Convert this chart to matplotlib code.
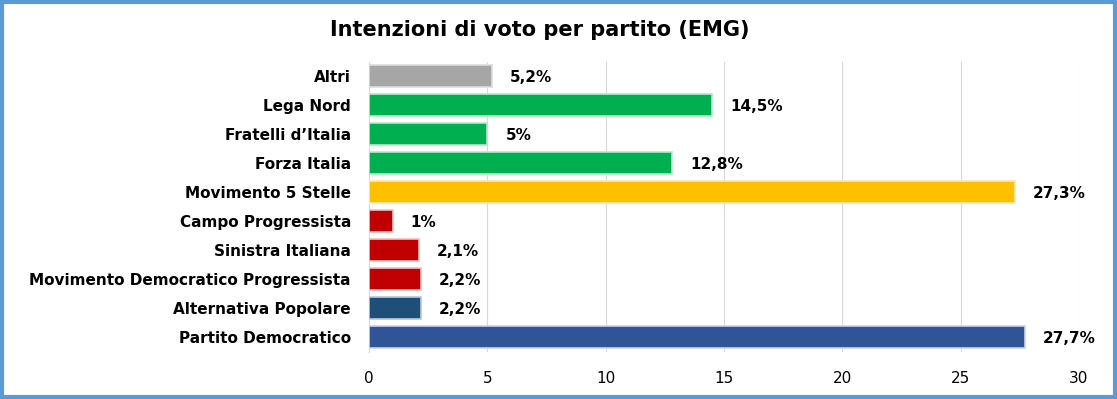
import matplotlib.pyplot as plt
from matplotlib.patches import Rectangle

# data, bottom to top
partiti = ['Partito Democratico', 'Alternativa Popolare',
           'Movimento Democratico Progressista', 'Sinistra Italiana',
           'Campo Progressista', 'Movimento 5 Stelle', 'Forza Italia',
           'Fratelli d\u2019Italia', 'Lega Nord', 'Altri']
voti = [27.7, 2.2, 2.2, 2.1, 1.0, 27.3, 12.8, 5.0, 14.5, 5.2]
etichette = ['27,7%', '2,2%', '2,2%', '2,1%', '1%', '27,3%', '12,8%',
             '5%', '14,5%', '5,2%']
colori = ['#2F5597', '#1F4E79', '#C00000', '#C00000', '#C00000',
          '#FFC000', '#00B050', '#00B050', '#00B050', '#A6A6A6']
bordi = ['#C9D3E8', '#B9C8D8', '#F0C0C0', '#F0C0C0', '#F0C0C0',
         '#FFE8A8', '#B8E8C8', '#B8E8C8', '#B8E8C8', '#DDDDDD']

plt.rcParams['font.family'] = ['DejaVu Sans']

fig = plt.figure(figsize=(11.17, 3.99), dpi=100)
ax = fig.add_axes([369/1117, 1-351.5/399, 710/1117, 290/399])

ax.barh(range(len(partiti)), voti, height=0.78, color=colori,
        edgecolor=bordi, linewidth=1.2, zorder=3)

for i, (v, t) in enumerate(zip(voti, etichette)):
    ax.annotate(t, (v, i), xytext=(13, -1), textcoords='offset points',
                va='center', ha='left', fontsize=11, fontweight='bold')

ax.set_xlim(0, 30)
ax.set_ylim(-0.5, len(partiti) - 0.5)
ax.set_xticks([0, 5, 10, 15, 20, 25, 30])
ax.set_yticks(range(len(partiti)))
ax.set_yticklabels(partiti, fontsize=11, fontweight='bold')
ax.tick_params(axis='y', length=0, pad=13)
ax.tick_params(axis='x', length=0, pad=14, labelsize=11)
ax.grid(axis='x', color='#D9D9D9', lw=0.8, zorder=0)
for s in ['top', 'right', 'bottom']:
    ax.spines[s].set_visible(False)
ax.spines['left'].set_color('#D9D9D9')

fig.text(540/1117, 1-30/399, 'Intenzioni di voto per partito (EMG)',
         ha='center', va='center', fontsize=15, fontweight='bold')

fig.patches.append(Rectangle((0.0015, 0.004), 0.997, 0.992,
                             transform=fig.transFigure, fill=False,
                             edgecolor='#5B9BD5', lw=3))

fig.savefig('out.png')
